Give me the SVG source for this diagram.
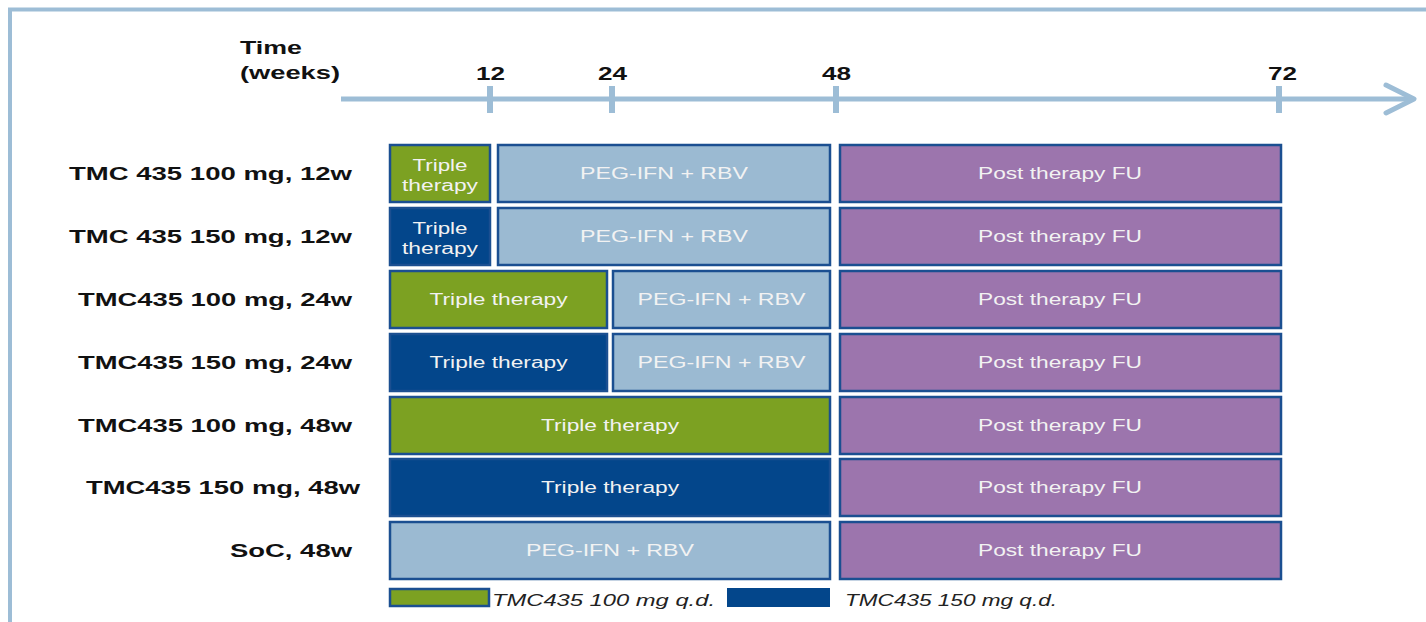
<svg xmlns="http://www.w3.org/2000/svg" width="1426" height="622" viewBox="0 0 1426 622">
<defs>
<style>
.frame{fill:none;stroke:#9dbdd6;stroke-width:4}
.axis{fill:none;stroke:#9dbdd6;stroke-width:5}
.tick{stroke:#9dbdd6;stroke-width:6}
.box{stroke:#1b4f91;stroke-width:2.5}
.g{fill:#7ca122}
.d{fill:#03468b}
.l{fill:#9bbad2}
.p{fill:#9c75ad}
.lab{font-family:"Liberation Sans",Arial,sans-serif;font-weight:bold;font-size:19px;fill:#111}
.bt{font-family:"Liberation Sans",Arial,sans-serif;font-size:16px;fill:#f2f2f2;text-anchor:middle}
.leg{font-family:"Liberation Sans",Arial,sans-serif;font-style:italic;font-size:16px;fill:#222}
</style>
</defs>
<g id="frame"><path class="frame" d="M10,622 V9.5 H1426"/></g>
<g id="axis">
<path class="axis" d="M341,99 H1414"/>
<path class="axis" d="M1386,85 L1414,99 L1386,113" stroke-linecap="round" stroke-linejoin="round"/>
<line class="tick" x1="490" y1="86" x2="490" y2="113"/>
<line class="tick" x1="612" y1="86" x2="612" y2="113"/>
<line class="tick" x1="836" y1="86" x2="836" y2="113"/>
<line class="tick" x1="1279" y1="86" x2="1279" y2="113"/>
<text class="lab" x="240" y="54" textLength="62" lengthAdjust="spacingAndGlyphs">Time</text>
<text class="lab" x="240" y="79" textLength="100" lengthAdjust="spacingAndGlyphs">(weeks)</text>
<text class="lab" x="476" y="80" textLength="29" lengthAdjust="spacingAndGlyphs">12</text>
<text class="lab" x="598" y="80" textLength="29" lengthAdjust="spacingAndGlyphs">24</text>
<text class="lab" x="822" y="80" textLength="29" lengthAdjust="spacingAndGlyphs">48</text>
<text class="lab" x="1268" y="80" textLength="29" lengthAdjust="spacingAndGlyphs">72</text>
</g>
<g id="labels">
<text class="lab" x="69" y="180" textLength="283" lengthAdjust="spacingAndGlyphs">TMC 435 100 mg, 12w</text>
<text class="lab" x="69" y="243" textLength="283" lengthAdjust="spacingAndGlyphs">TMC 435 150 mg, 12w</text>
<text class="lab" x="78" y="306" textLength="274" lengthAdjust="spacingAndGlyphs">TMC435 100 mg, 24w</text>
<text class="lab" x="78" y="369" textLength="274" lengthAdjust="spacingAndGlyphs">TMC435 150 mg, 24w</text>
<text class="lab" x="78" y="432" textLength="274" lengthAdjust="spacingAndGlyphs">TMC435 100 mg, 48w</text>
<text class="lab" x="86" y="494" textLength="274" lengthAdjust="spacingAndGlyphs">TMC435 150 mg, 48w</text>
<text class="lab" x="230" y="557" textLength="122" lengthAdjust="spacingAndGlyphs">SoC, 48w</text>
</g>
<g id="row1">
<rect class="box g" x="390" y="145" width="100" height="57"/>
<text class="bt" x="440" y="171" textLength="55" lengthAdjust="spacingAndGlyphs">Triple</text>
<text class="bt" x="440" y="191" textLength="76" lengthAdjust="spacingAndGlyphs">therapy</text>
<rect class="box l" x="498" y="145" width="332" height="57"/>
<text class="bt" x="664" y="179" textLength="168" lengthAdjust="spacingAndGlyphs">PEG-IFN + RBV</text>
<rect class="box p" x="840" y="145" width="441" height="57"/>
<text class="bt" x="1060" y="179" textLength="164" lengthAdjust="spacingAndGlyphs">Post therapy FU</text>
</g>
<g id="row2">
<rect class="box d" x="390" y="208" width="100" height="57"/>
<text class="bt" x="440" y="234" textLength="55" lengthAdjust="spacingAndGlyphs">Triple</text>
<text class="bt" x="440" y="254" textLength="76" lengthAdjust="spacingAndGlyphs">therapy</text>
<rect class="box l" x="498" y="208" width="332" height="57"/>
<text class="bt" x="664" y="242" textLength="168" lengthAdjust="spacingAndGlyphs">PEG-IFN + RBV</text>
<rect class="box p" x="840" y="208" width="441" height="57"/>
<text class="bt" x="1060" y="242" textLength="164" lengthAdjust="spacingAndGlyphs">Post therapy FU</text>
</g>
<g id="row3">
<rect class="box g" x="390" y="271" width="217" height="57"/>
<text class="bt" x="498.5" y="305" textLength="138" lengthAdjust="spacingAndGlyphs">Triple therapy</text>
<rect class="box l" x="613" y="271" width="217" height="57"/>
<text class="bt" x="721.5" y="305" textLength="168" lengthAdjust="spacingAndGlyphs">PEG-IFN + RBV</text>
<rect class="box p" x="840" y="271" width="441" height="57"/>
<text class="bt" x="1060" y="305" textLength="164" lengthAdjust="spacingAndGlyphs">Post therapy FU</text>
</g>
<g id="row4">
<rect class="box d" x="390" y="334" width="217" height="57"/>
<text class="bt" x="498.5" y="368" textLength="138" lengthAdjust="spacingAndGlyphs">Triple therapy</text>
<rect class="box l" x="613" y="334" width="217" height="57"/>
<text class="bt" x="721.5" y="368" textLength="168" lengthAdjust="spacingAndGlyphs">PEG-IFN + RBV</text>
<rect class="box p" x="840" y="334" width="441" height="57"/>
<text class="bt" x="1060" y="368" textLength="164" lengthAdjust="spacingAndGlyphs">Post therapy FU</text>
</g>
<g id="row5">
<rect class="box g" x="390" y="397" width="440" height="57"/>
<text class="bt" x="610" y="431" textLength="138" lengthAdjust="spacingAndGlyphs">Triple therapy</text>
<rect class="box p" x="840" y="397" width="441" height="57"/>
<text class="bt" x="1060" y="431" textLength="164" lengthAdjust="spacingAndGlyphs">Post therapy FU</text>
</g>
<g id="row6">
<rect class="box d" x="390" y="459" width="440" height="57"/>
<text class="bt" x="610" y="493" textLength="138" lengthAdjust="spacingAndGlyphs">Triple therapy</text>
<rect class="box p" x="840" y="459" width="441" height="57"/>
<text class="bt" x="1060" y="493" textLength="164" lengthAdjust="spacingAndGlyphs">Post therapy FU</text>
</g>
<g id="row7">
<rect class="box l" x="390" y="522" width="440" height="57"/>
<text class="bt" x="610" y="556" textLength="168" lengthAdjust="spacingAndGlyphs">PEG-IFN + RBV</text>
<rect class="box p" x="840" y="522" width="441" height="57"/>
<text class="bt" x="1060" y="556" textLength="164" lengthAdjust="spacingAndGlyphs">Post therapy FU</text>
</g>
<g id="legend">
<rect class="box g" x="390" y="589" width="99" height="17"/>
<text class="leg" x="492" y="606" textLength="223" lengthAdjust="spacingAndGlyphs">TMC435 100 mg q.d.</text>
<rect class="d" x="727" y="588" width="103" height="19"/>
<text class="leg" x="845" y="606" textLength="212" lengthAdjust="spacingAndGlyphs">TMC435 150 mg q.d.</text>
</g>
</svg>
